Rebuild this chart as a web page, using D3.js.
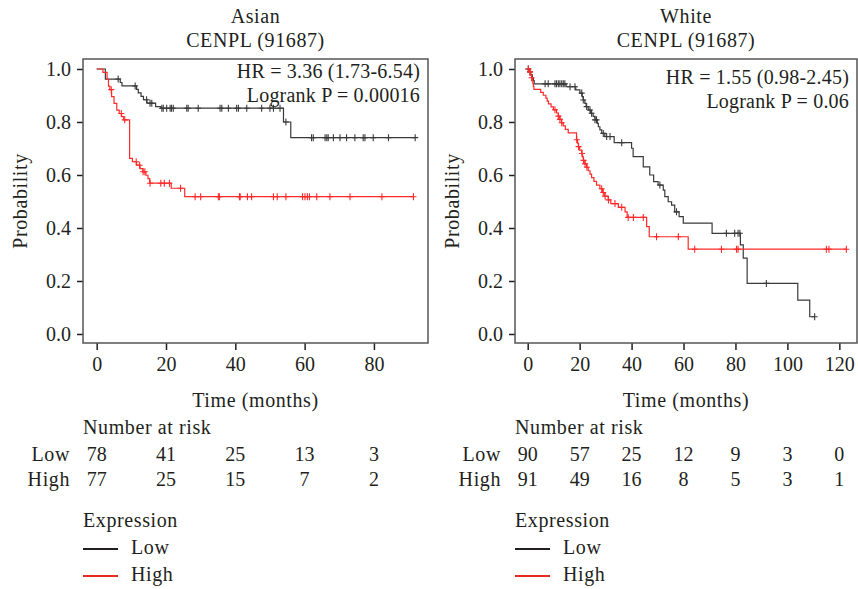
<!DOCTYPE html>
<html>
<head>
<meta charset="utf-8">
<script src="https://cdn.jsdelivr.net/npm/d3@7"></script>
<style>
  body { margin: 0; background: #fff; }
  svg text { font-family: "Liberation Serif", "Times New Roman", serif; fill: #231f20; }
  svg text.word { letter-spacing: 0.6px; }
  svg text.stat { letter-spacing: 0.2px; }
</style>
</head>
<body>
<svg id="chart" width="858" height="589"></svg>
<script>
// Kaplan-Meier curves, CENPL (91687), Asian and White cohorts
// steps are [time, survival after the drop], censor marks are times only

const asianLowSteps = [[2.5,0.962],[6.8,0.949],[7.3,0.936],[11.5,0.923],[12.0,0.910],[12.8,0.897],[13.5,0.884],[14.5,0.871],[17.0,0.858],[18.5,0.852],[53.9,0.800],[56.0,0.741]];
const asianLowCensor = [6.2,11.1,14.4,15.4,15.9,18.8,19.2,20.2,21.2,21.6,22.1,26.0,26.4,29.3,35.6,36.1,38.0,40.4,40.9,43.3,47.6,50.0,51.0,52.9,54.6,62.0,62.5,65.9,66.4,66.8,68.3,70.2,72.1,74.5,76.9,77.4,79.8,84.2,91.9];

const asianHighSteps = [[1.8,0.987],[3.0,0.961],[3.4,0.935],[3.8,0.922],[4.3,0.896],[5.0,0.870],[5.8,0.845],[6.5,0.832],[7.2,0.820],[7.8,0.808],[9.5,0.663],[10.3,0.650],[11.5,0.637],[12.5,0.624],[13.3,0.612],[14.2,0.599],[14.8,0.586],[15.3,0.569],[21.5,0.550],[25.4,0.518]];
const asianHighCensor = [4.2,7.1,8.1,11.4,12.4,13.4,13.9,15.4,18.5,19.5,21.0,24.2,28.4,30.0,35.1,35.4,41.2,41.4,43.5,44.7,51.0,52.1,54.6,59.4,60.1,60.8,61.4,63.5,67.3,73.1,82.3,91.4];

const whiteLowSteps = [[0.5,0.989],[1.2,0.978],[1.8,0.967],[2.2,0.956],[2.5,0.944],[14.8,0.933],[18.5,0.921],[20.1,0.909],[21.0,0.896],[21.4,0.883],[22.0,0.870],[22.5,0.858],[23.3,0.845],[24.3,0.833],[25.2,0.821],[25.9,0.808],[26.8,0.795],[27.2,0.782],[27.8,0.770],[28.5,0.757],[29.7,0.745],[33.3,0.722],[40.0,0.701],[40.6,0.669],[44.5,0.631],[47.0,0.600],[48.5,0.575],[50.2,0.562],[52.2,0.543],[52.8,0.518],[54.1,0.499],[55.4,0.486],[56.6,0.461],[58.3,0.443],[59.9,0.418],[71.0,0.380],[81.9,0.336],[83.0,0.286],[84.5,0.191],[104.0,0.128],[108.6,0.065]];
const whiteLowCensor = [0.2,0.9,6.7,7.9,10.5,11.1,11.8,12.4,13.1,13.7,14.3,16.3,18.2,20.8,21.4,22.7,24.0,24.6,25.9,26.5,29.1,30.4,31.7,36.2,50.9,57.3,76.5,79.7,81.0,81.7,91.9,110.5];

const whiteHighSteps = [[0.5,0.989],[1.0,0.978],[1.5,0.967],[1.8,0.956],[2.0,0.945],[2.2,0.934],[2.4,0.923],[5.0,0.912],[6.0,0.901],[7.0,0.890],[7.5,0.879],[8.0,0.868],[9.0,0.857],[9.9,0.846],[11.1,0.834],[11.8,0.822],[12.4,0.810],[13.0,0.797],[13.7,0.785],[14.5,0.772],[15.6,0.759],[18.8,0.733],[19.2,0.720],[19.5,0.707],[20.0,0.694],[20.8,0.681],[21.1,0.668],[21.4,0.655],[22.0,0.642],[22.7,0.629],[23.3,0.616],[24.0,0.603],[24.6,0.590],[25.5,0.576],[26.5,0.562],[27.8,0.548],[28.8,0.534],[29.7,0.520],[31.0,0.506],[32.0,0.492],[34.9,0.478],[37.5,0.461],[38.3,0.440],[45.8,0.405],[46.8,0.367],[61.8,0.320]];
const whiteHighCensor = [0.3,0.9,1.5,10.5,11.8,12.4,13.1,18.9,19.6,20.9,21.5,22.1,22.8,28.5,29.1,29.8,31.1,33.6,36.2,38.7,40.7,44.5,49.6,58.0,64.3,74.6,80.4,81.0,115.0,116.0,122.7];

const riskTimesAsian = [0,20,40,60,80];
const riskLowAsian = [78,41,25,13,3];
const riskHighAsian = [77,25,15,7,2];
const riskTimesWhite = [0,20,40,60,80,100,120];
const riskLowWhite = [90,57,25,12,9,3,0];
const riskHighWhite = [91,49,16,8,5,3,1];

const yTicks = [0,0.2,0.4,0.6,0.8,1.0];
const groupNames = ["Low","High"];

const colLow = "#3a3a3a", colHigh = "#ff2a2a";
const fs = 20;

const svg = d3.select('#chart');

const panels = [
  {title:"Asian", gene:"CENPL (91687)", x0:83, x1:428, dom:[-3.95,95.6], ticks:riskTimesAsian,
   hr:"HR = 3.36 (1.73-6.54)", p:"Logrank P = 0.00016", hrY:78, labX:70, ylabX:27,
   low:asianLowSteps, lowC:asianLowCensor, high:asianHighSteps, highC:asianHighCensor,
   rLow:riskLowAsian, rHigh:riskHighAsian},
  {title:"White", gene:"CENPL (91687)", x0:515, x1:857, dom:[-4.89,126.8], ticks:riskTimesWhite,
   hr:"HR = 1.55 (0.98-2.45)", p:"Logrank P = 0.06", hrY:84, labX:501, ylabX:459,
   low:whiteLowSteps, lowC:whiteLowCensor, high:whiteHighSteps, highC:whiteHighCensor,
   rLow:riskLowWhite, rHigh:riskHighWhite}
];

// survival at time t from step list
function survAt(steps, t) {
  let s = 1;
  for (let i = 0; i < steps.length; i++) {
    if (steps[i][0] <= t) s = steps[i][1];
  }
  return s;
}

function drawPanel(p) {
  const top = 59, bottom = 343;
  const x = d3.scaleLinear().domain(p.dom).range([p.x0, p.x1]);
  const y = d3.scaleLinear().domain([-0.034, 1.0377]).range([bottom, top]);
  const g = svg.append('g');

  // titles
  const cx = (p.x0 + p.x1) / 2;
  g.append('text').attr('class','word').text(p.title).attr('x', cx).attr('y', 23).attr('text-anchor','middle').style('font-size', fs+'px');
  g.append('text').attr('class','word').text(p.gene).attr('x', cx).attr('y', 47).attr('text-anchor','middle').style('font-size', fs+'px');

  // axes
  const yAxis = g.append('g').attr('transform','translate(' + p.x0 + ',0)')
    .call(d3.axisLeft(y).tickValues(yTicks).tickFormat(d3.format('.1f')).tickSize(6).tickPadding(6));
  const xAxis = g.append('g').attr('transform','translate(0,' + bottom + ')')
    .call(d3.axisBottom(x).tickValues(p.ticks).tickSize(7).tickPadding(7));
  [xAxis, yAxis].forEach(a => {
    a.select('.domain').remove();
    a.selectAll('line').attr('stroke','#231f20').attr('stroke-width',1.5);
    a.selectAll('text').style('font-size', fs+'px').style('font-family','"Liberation Serif", serif').attr('fill','#231f20');
  });
  xAxis.selectAll('text').attr('dy','0.71em');

  // curves
  const line = d3.line().x(d => x(d[0])).y(d => y(d[1])).curve(d3.curveStepAfter);
  [[p.low, p.lowC, colLow], [p.high, p.highC, colHigh]].forEach(([steps, cens, col]) => {
    const tEnd = Math.max(d3.max(steps, d => d[0]), d3.max(cens));
    const pts = [[0,1]].concat(steps).concat([[tEnd, steps[steps.length-1][1]]]);
    g.append('path').attr('d', line(pts)).attr('fill','none').attr('stroke', col).attr('stroke-width',1.2);
    g.selectAll(null).data(cens).enter().append('path')
      .attr('d', t => {
        const px = x(t), py = y(survAt(steps, t));
        return 'M' + (px-3) + ',' + py + 'H' + (px+3) + 'M' + px + ',' + (py-3.5) + 'V' + (py+3.5);
      })
      .attr('stroke', col).attr('stroke-width',1.1).attr('fill','none');
  });

  // box
  g.append('rect').attr('x', p.x0).attr('y', top).attr('width', p.x1 - p.x0).attr('height', bottom - top)
    .attr('fill','none').attr('stroke','#555').attr('stroke-width',1.5);

  // HR text
  g.append('text').attr('class','stat').text(p.hr).attr('x', p.x1 - 8).attr('y', p.hrY).attr('text-anchor','end').style('font-size', fs+'px');
  g.append('text').attr('class','stat').text(p.p).attr('x', p.x1 - 8).attr('y', p.hrY + 24).attr('text-anchor','end').style('font-size', fs+'px');

  // axis labels
  g.append('text').attr('class','word').text('Time (months)').attr('x', cx).attr('y', 407).attr('text-anchor','middle').style('font-size', fs+'px');
  g.append('text').attr('class','word').text('Probability').attr('transform','translate(' + p.ylabX + ',' + ((top+bottom)/2) + ') rotate(-90)')
    .attr('text-anchor','middle').style('font-size', fs+'px');

  // number at risk
  g.append('text').attr('class','word').text('Number at risk').attr('x', p.x0).attr('y', 434).style('font-size', fs+'px');
  [p.rLow, p.rHigh].forEach((vals, i) => {
    const yy = 461 + i * 24.5;
    g.append('text').attr('class','word').text(groupNames[i]).attr('x', p.labX).attr('y', yy).attr('text-anchor','end').style('font-size', fs+'px');
    g.selectAll(null).data(vals).enter().append('text')
      .text(d => d)
      .attr('x', (d, j) => x(p.ticks[j]))
      .attr('y', yy).attr('text-anchor','middle').style('font-size', fs+'px');
  });

  // legend
  g.append('text').attr('class','word').text('Expression').attr('x', p.x0).attr('y', 527).style('font-size', fs+'px');
  ['#231f20', '#e8291f'].forEach((c, i) => {
    const yy = 549 + i * 27;
    g.append('line').attr('x1', p.x0).attr('x2', p.x0 + 35).attr('y1', yy).attr('y2', yy)
      .attr('stroke', c).attr('stroke-width', 2);
    g.append('text').attr('class','word').text(groupNames[i]).attr('x', p.x0 + 48).attr('y', yy + 4.5).style('font-size', fs+'px');
  });
}

panels.forEach(drawPanel);
</script>
</body>
</html>
